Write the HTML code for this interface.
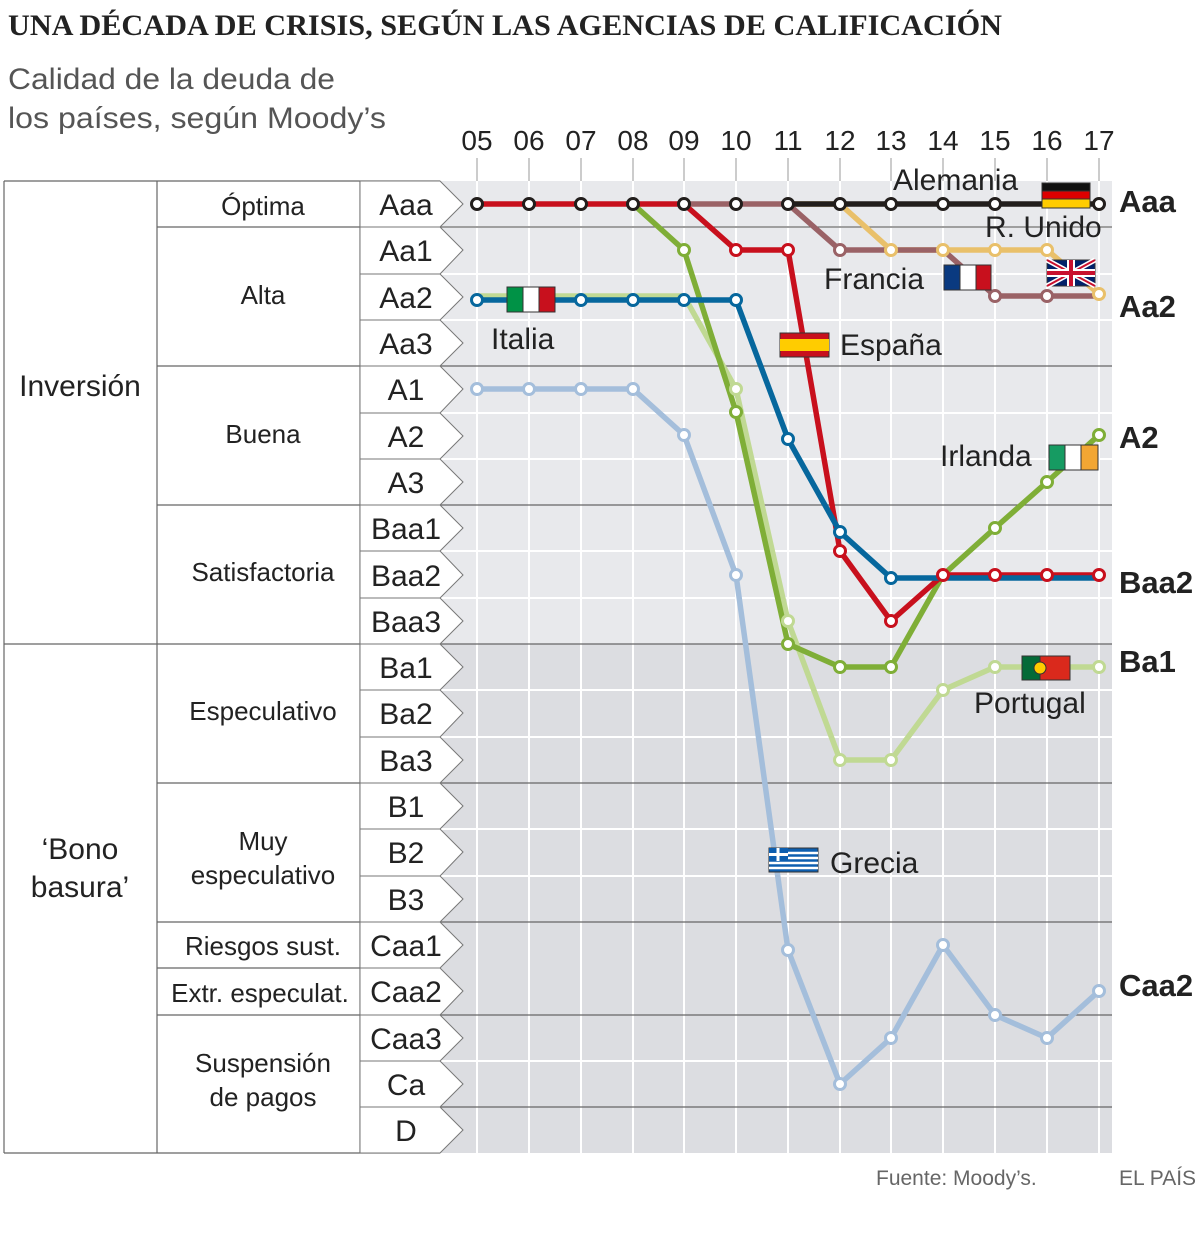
<!DOCTYPE html>
<html><head><meta charset="utf-8"><style>
body{margin:0;background:#fff}
svg{display:block;font-family:"Liberation Sans",sans-serif}
</style></head><body>
<svg width="1200" height="1254" viewBox="0 0 1200 1254" xmlns="http://www.w3.org/2000/svg">
<text x="8" y="35" font-family="Liberation Serif,serif" font-weight="bold" font-size="30" fill="#222" textLength="994" lengthAdjust="spacingAndGlyphs">UNA DÉCADA DE CRISIS, SEGÚN LAS AGENCIAS DE CALIFICACIÓN</text>
<text x="8" y="89" font-size="30" fill="#555" textLength="327" lengthAdjust="spacingAndGlyphs">Calidad de la deuda de</text>
<text x="8" y="128" font-size="30" fill="#555" textLength="378" lengthAdjust="spacingAndGlyphs">los países, según Moody’s</text>
<g font-size="28" fill="#222" text-anchor="middle">
<text x="477" y="150">05</text><text x="529" y="150">06</text><text x="581" y="150">07</text><text x="633" y="150">08</text><text x="684" y="150">09</text><text x="736" y="150">10</text><text x="788" y="150">11</text><text x="840" y="150">12</text><text x="891" y="150">13</text><text x="943" y="150">14</text><text x="995" y="150">15</text><text x="1047" y="150">16</text><text x="1099" y="150">17</text>
</g>
<rect x="440" y="181" width="672" height="463" fill="#e8e9ec"/>
<rect x="440" y="644" width="672" height="509" fill="#dcdde1"/>
<g stroke="#fff" stroke-width="2">
<line x1="440" x2="1112" y1="227" y2="227"/><line x1="440" x2="1112" y1="274" y2="274"/><line x1="440" x2="1112" y1="320" y2="320"/><line x1="440" x2="1112" y1="413" y2="413"/><line x1="440" x2="1112" y1="459" y2="459"/><line x1="440" x2="1112" y1="551" y2="551"/><line x1="440" x2="1112" y1="598" y2="598"/><line x1="440" x2="1112" y1="690" y2="690"/><line x1="440" x2="1112" y1="737" y2="737"/><line x1="440" x2="1112" y1="829" y2="829"/><line x1="440" x2="1112" y1="876" y2="876"/><line x1="440" x2="1112" y1="1061" y2="1061"/>
</g>
<g stroke="#fff" stroke-width="2">
<line x1="477" x2="477" y1="181" y2="1153"/><line x1="529" x2="529" y1="181" y2="1153"/><line x1="581" x2="581" y1="181" y2="1153"/><line x1="633" x2="633" y1="181" y2="1153"/><line x1="684" x2="684" y1="181" y2="1153"/><line x1="736" x2="736" y1="181" y2="1153"/><line x1="788" x2="788" y1="181" y2="1153"/><line x1="840" x2="840" y1="181" y2="1153"/><line x1="891" x2="891" y1="181" y2="1153"/><line x1="943" x2="943" y1="181" y2="1153"/><line x1="995" x2="995" y1="181" y2="1153"/><line x1="1047" x2="1047" y1="181" y2="1153"/><line x1="1099" x2="1099" y1="181" y2="1153"/>
</g>
<g stroke="#999" stroke-width="1">
<line x1="477" x2="477" y1="158" y2="181"/><line x1="529" x2="529" y1="158" y2="181"/><line x1="581" x2="581" y1="158" y2="181"/><line x1="633" x2="633" y1="158" y2="181"/><line x1="684" x2="684" y1="158" y2="181"/><line x1="736" x2="736" y1="158" y2="181"/><line x1="788" x2="788" y1="158" y2="181"/><line x1="840" x2="840" y1="158" y2="181"/><line x1="891" x2="891" y1="158" y2="181"/><line x1="943" x2="943" y1="158" y2="181"/><line x1="995" x2="995" y1="158" y2="181"/><line x1="1047" x2="1047" y1="158" y2="181"/><line x1="1099" x2="1099" y1="158" y2="181"/>
</g>
<g stroke="#666" stroke-width="1.2">
<line x1="157" x2="1112" y1="227" y2="227"/><line x1="157" x2="1112" y1="366" y2="366"/><line x1="157" x2="1112" y1="505" y2="505"/><line x1="4" x2="1112" y1="644" y2="644"/><line x1="157" x2="1112" y1="783" y2="783"/><line x1="157" x2="1112" y1="922" y2="922"/><line x1="157" x2="360" y1="968" y2="968"/><line x1="157" x2="1112" y1="1015" y2="1015"/><line x1="440" x2="1112" y1="1107" y2="1107"/>
<line x1="4" x2="440" y1="181" y2="181"/><line x1="4" x2="440" y1="1153" y2="1153"/>
<line x1="4" x2="4" y1="181" y2="1153"/><line x1="157" x2="157" y1="181" y2="1153"/><line x1="360" x2="360" y1="181" y2="1153"/>
</g>
<g fill="#fff" stroke="#777" stroke-width="1">
<path d="M360 181H440L463 204L440 227H360Z"/><path d="M360 227H440L463 250L440 274H360Z"/><path d="M360 274H440L463 297L440 320H360Z"/><path d="M360 320H440L463 343L440 366H360Z"/><path d="M360 366H440L463 389L440 413H360Z"/><path d="M360 413H440L463 436L440 459H360Z"/><path d="M360 459H440L463 482L440 505H360Z"/><path d="M360 505H440L463 528L440 551H360Z"/><path d="M360 551H440L463 575L440 598H360Z"/><path d="M360 598H440L463 621L440 644H360Z"/><path d="M360 644H440L463 667L440 690H360Z"/><path d="M360 690H440L463 713L440 737H360Z"/><path d="M360 737H440L463 760L440 783H360Z"/><path d="M360 783H440L463 806L440 829H360Z"/><path d="M360 829H440L463 852L440 876H360Z"/><path d="M360 876H440L463 899L440 922H360Z"/><path d="M360 922H440L463 945L440 968H360Z"/><path d="M360 968H440L463 991L440 1015H360Z"/><path d="M360 1015H440L463 1038L440 1061H360Z"/><path d="M360 1061H440L463 1084L440 1107H360Z"/><path d="M360 1107H440L463 1130L440 1153H360Z"/>
</g>
<g font-size="30" fill="#222" text-anchor="middle">
<text x="406" y="215">Aaa</text><text x="406" y="261">Aa1</text><text x="406" y="308">Aa2</text><text x="406" y="354">Aa3</text><text x="406" y="400">A1</text><text x="406" y="447">A2</text><text x="406" y="493">A3</text><text x="406" y="539">Baa1</text><text x="406" y="586">Baa2</text><text x="406" y="632">Baa3</text><text x="406" y="678">Ba1</text><text x="406" y="724">Ba2</text><text x="406" y="771">Ba3</text><text x="406" y="817">B1</text><text x="406" y="863">B2</text><text x="406" y="910">B3</text><text x="406" y="956">Caa1</text><text x="406" y="1002">Caa2</text><text x="406" y="1049">Caa3</text><text x="406" y="1095">Ca</text><text x="406" y="1141">D</text>
</g>
<g font-size="26" fill="#222" text-anchor="middle">
<text x="263" y="215">Óptima</text><text x="263" y="304">Alta</text><text x="263" y="443">Buena</text><text x="263" y="581">Satisfactoria</text><text x="263" y="720">Especulativo</text><text x="263" y="850">Muy</text><text x="263" y="884">especulativo</text><text x="263" y="955">Riesgos sust.</text><text x="260" y="1002">Extr. especulat.</text><text x="263" y="1072">Suspensión</text><text x="263" y="1106">de pagos</text>
<text x="80" y="396" font-size="30">Inversión</text><text x="80" y="859" font-size="30">‘Bono</text><text x="80" y="897" font-size="30">basura’</text>
</g>
<g fill="none" stroke-width="5.5" stroke-linejoin="round">
<polyline stroke="#a4bedb" points="477,389 529,389 581,389 633,389 684,435 736,575 788,950 840,1084 891,1038 943,945 995,1015 1047,1038 1099,991"/>
<polyline stroke="#c0d993" points="477,296 529,296 581,296 633,296 684,296 736,389 788,621 840,760 891,760 943,690 995,667 1047,667 1099,667"/>
<polyline stroke="#e9c06a" points="788,204 840,204 891,250 943,250 995,250 1047,250 1099,294"/>
<polyline stroke="#9a6266" points="684,204 788,204 840,250 891,250 943,250 995,296 1047,296 1099,296"/>
<polyline stroke="#221e1c" points="788,204 1099,204"/>
<polyline stroke="#7fae37" points="633,204 684,250 736,412 788,644 840,667 891,667 943,575 995,528 1047,482 1099,435"/>
<polyline stroke="#c8101d" points="477,204 684,204 736,250 788,250 840,551 891,621 943,575 995,575 1047,575 1099,575"/>
<polyline stroke="#06679d" points="477,300 736,300 788,439 840,532 891,578 943,578 995,578 1047,578 1099,578"/>
</g>
<g fill="#fff" stroke-width="3">
<g stroke="#a4bedb"><circle cx="477" cy="389" r="5.5"/><circle cx="529" cy="389" r="5.5"/><circle cx="581" cy="389" r="5.5"/><circle cx="633" cy="389" r="5.5"/><circle cx="684" cy="435" r="5.5"/><circle cx="736" cy="575" r="5.5"/><circle cx="788" cy="950" r="5.5"/><circle cx="840" cy="1084" r="5.5"/><circle cx="891" cy="1038" r="5.5"/><circle cx="943" cy="945" r="5.5"/><circle cx="995" cy="1015" r="5.5"/><circle cx="1047" cy="1038" r="5.5"/><circle cx="1099" cy="991" r="5.5"/></g>
<g stroke="#c0d993"><circle cx="736" cy="389" r="5.5"/><circle cx="788" cy="621" r="5.5"/><circle cx="840" cy="760" r="5.5"/><circle cx="891" cy="760" r="5.5"/><circle cx="943" cy="690" r="5.5"/><circle cx="995" cy="667" r="5.5"/><circle cx="1099" cy="667" r="5.5"/></g>
<g stroke="#e9c06a"><circle cx="891" cy="250" r="5.5"/><circle cx="943" cy="250" r="5.5"/><circle cx="995" cy="250" r="5.5"/><circle cx="1047" cy="250" r="5.5"/><circle cx="1099" cy="294" r="5.5"/></g>
<g stroke="#9a6266"><circle cx="840" cy="250" r="5.5"/><circle cx="995" cy="296" r="5.5"/><circle cx="1047" cy="296" r="5.5"/></g>
<g stroke="#221e1c"><circle cx="477" cy="204" r="5.5"/><circle cx="529" cy="204" r="5.5"/><circle cx="581" cy="204" r="5.5"/><circle cx="633" cy="204" r="5.5"/><circle cx="684" cy="204" r="5.5"/><circle cx="736" cy="204" r="5.5"/><circle cx="788" cy="204" r="5.5"/><circle cx="840" cy="204" r="5.5"/><circle cx="891" cy="204" r="5.5"/><circle cx="943" cy="204" r="5.5"/><circle cx="995" cy="204" r="5.5"/><circle cx="1099" cy="204" r="5.5"/></g>
<g stroke="#7fae37"><circle cx="684" cy="250" r="5.5"/><circle cx="736" cy="412" r="5.5"/><circle cx="788" cy="644" r="5.5"/><circle cx="840" cy="667" r="5.5"/><circle cx="891" cy="667" r="5.5"/><circle cx="995" cy="528" r="5.5"/><circle cx="1047" cy="482" r="5.5"/><circle cx="1099" cy="435" r="5.5"/></g>
<g stroke="#c8101d"><circle cx="736" cy="250" r="5.5"/><circle cx="788" cy="250" r="5.5"/><circle cx="840" cy="551" r="5.5"/><circle cx="891" cy="621" r="5.5"/><circle cx="943" cy="575" r="5.5"/><circle cx="995" cy="575" r="5.5"/><circle cx="1047" cy="575" r="5.5"/><circle cx="1099" cy="575" r="5.5"/></g>
<g stroke="#06679d"><circle cx="477" cy="300" r="5.5"/><circle cx="581" cy="300" r="5.5"/><circle cx="633" cy="300" r="5.5"/><circle cx="684" cy="300" r="5.5"/><circle cx="736" cy="300" r="5.5"/><circle cx="788" cy="439" r="5.5"/><circle cx="840" cy="532" r="5.5"/><circle cx="891" cy="578" r="5.5"/></g>
</g>
<g stroke="#333" stroke-width="1">
<g><rect x="1042" y="183" width="48" height="8" fill="#111"/><rect x="1042" y="191" width="48" height="8" fill="#d00"/><rect x="1042" y="199" width="48" height="9" fill="#fc0"/></g>
<g><rect x="1047" y="260" width="48" height="26" fill="#012169"/><path d="M1047 260L1095 286M1095 260L1047 286" stroke="#fff" stroke-width="5"/><path d="M1047 260L1095 286M1095 260L1047 286" stroke="#c8102e" stroke-width="2"/><path d="M1071 260V286M1047 273H1095" stroke="#fff" stroke-width="8"/><path d="M1071 260V286M1047 273H1095" stroke="#c8102e" stroke-width="4"/></g>
<g><rect x="944" y="265" width="16" height="25" fill="#0a3a80"/><rect x="960" y="265" width="16" height="25" fill="#fff"/><rect x="976" y="265" width="15" height="25" fill="#c8101d"/></g>
<g><rect x="507" y="287" width="16" height="25" fill="#009246"/><rect x="523" y="287" width="16" height="25" fill="#fff"/><rect x="539" y="287" width="16" height="25" fill="#c8101d"/></g>
<g><rect x="780" y="333" width="49" height="24" fill="#c8101d"/><rect x="780" y="339" width="49" height="12" fill="#fc0" stroke="none"/></g>
<g><rect x="1049" y="445" width="16" height="25" fill="#169b62"/><rect x="1065" y="445" width="16" height="25" fill="#fff"/><rect x="1081" y="445" width="17" height="25" fill="#f2a633"/></g>
<g><rect x="1022" y="656" width="48" height="24" fill="#da291c"/><rect x="1022" y="656" width="18" height="24" fill="#046a38"/><circle cx="1040" cy="668" r="6" fill="#fc0"/></g>
<g><rect x="769" y="848" width="49" height="24" fill="#0d5eaf"/><path d="M769 853H818M769 858H818M769 863H818M769 868H818" stroke="#fff" stroke-width="2.5"/><rect x="769" y="848" width="19" height="13" fill="#0d5eaf" stroke="none"/><path d="M778 848V861M769 854.5H788" stroke="#fff" stroke-width="3"/></g>
</g>
<g font-size="30" fill="#222">
<text x="893" y="190">Alemania</text><text x="985" y="237">R. Unido</text><text x="824" y="289">Francia</text><text x="491" y="349">Italia</text><text x="840" y="355">España</text><text x="940" y="466">Irlanda</text><text x="974" y="713">Portugal</text><text x="830" y="873">Grecia</text>
</g>
<g font-size="31" font-weight="bold" fill="#222">
<text x="1119" y="212">Aaa</text><text x="1119" y="317">Aa2</text><text x="1119" y="448">A2</text><text x="1119" y="593">Baa2</text><text x="1119" y="672">Ba1</text><text x="1119" y="996">Caa2</text>
</g>
<text x="876" y="1185" font-size="21" fill="#666">Fuente: Moody’s.</text>
<text x="1119" y="1185" font-size="21" fill="#666">EL PAÍS</text>
</svg>
</body></html>
